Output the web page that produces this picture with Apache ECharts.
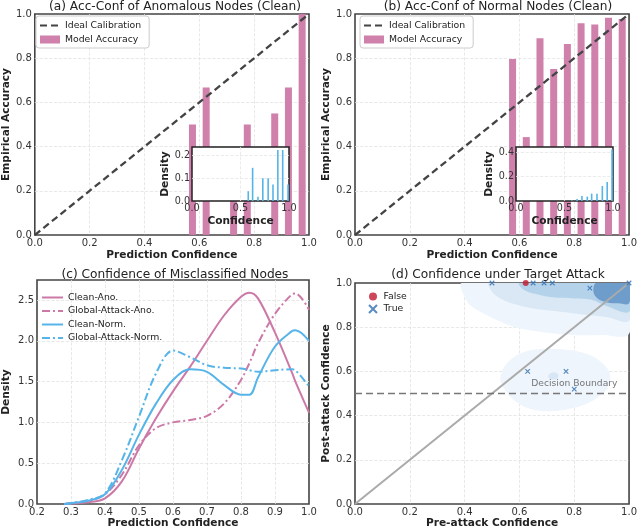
<!DOCTYPE html>
<html>
<head>
<meta charset="utf-8">
<title>Calibration and confidence</title>
<script src="https://cdn.jsdelivr.net/npm/echarts@6/dist/echarts.min.js"></script>
<style>
  * { margin: 0; padding: 0; }
  body { background: #fff; }
  #main { width: 640px; height: 530px; }
</style>
</head>
<body>
<div id="main"></div>
<script type="text/javascript">
// ---- data ----
// (a) anomalous nodes: [bin centre, accuracy]
var accAno = [[0.575, 0.5], [0.625, 0.667], [0.725, 0.33], [0.775, 0.5], [0.875, 0.55], [0.925, 0.667], [0.975, 1.0]];
// (a) inset density
var densAno = [[0.58, 0.043], [0.625, 0.145], [0.68, 0.019], [0.73, 0.099], [0.785, 0.099], [0.835, 0.072], [0.885, 0.223], [0.935, 0.223], [0.99, 0.072]];
// (b) normal nodes
var accNorm = [[0.575, 0.796], [0.625, 0.443], [0.675, 0.89], [0.725, 0.751], [0.775, 0.864], [0.825, 0.958], [0.875, 0.953], [0.925, 0.983], [0.975, 0.977]];
var densNorm = [[0.575, 0.005], [0.63, 0.016], [0.68, 0.04], [0.735, 0.036], [0.78, 0.06], [0.835, 0.06], [0.89, 0.123], [0.94, 0.156], [0.99, 0.42]];
var ideal = [[0, 0], [1, 1]];

// (c) densities of misclassified nodes
var confX = [0.28, 0.3, 0.35, 0.4, 0.45, 0.5, 0.55, 0.6, 0.65, 0.7, 0.75, 0.8, 0.825, 0.85, 0.9, 0.95, 0.96, 1.0];
var cleanAno = [0, 0.005, 0.02, 0.07, 0.28, 0.68, 1.05, 1.38, 1.68, 2.0, 2.31, 2.54, 2.59, 2.52, 2.1, 1.61, 1.5, 1.12];
var attackAno = [0, 0.01, 0.04, 0.12, 0.36, 0.72, 0.93, 1.0, 1.03, 1.08, 1.23, 1.52, 1.73, 1.97, 2.33, 2.57, 2.58, 2.38];
var cleanNorm = [0, 0.01, 0.04, 0.12, 0.42, 0.85, 1.23, 1.52, 1.65, 1.62, 1.46, 1.34, 1.34, 1.55, 1.93, 2.12, 2.13, 2.0];
var attackNorm = [0, 0.01, 0.05, 0.13, 0.54, 1.07, 1.6, 1.88, 1.8, 1.7, 1.67, 1.66, 1.64, 1.62, 1.64, 1.65, 1.64, 1.44];

// (d) target attack: [pre, post]
var flipFalse = [[0.623, 1.0]];
var flipTrue = [[0.5, 1.0], [0.65, 1.0], [0.69, 1.0], [0.72, 1.0], [0.857, 0.977], [1.0, 1.0], [0.63, 0.6], [0.77, 0.6], [0.8, 0.52]];
var boundary = [[0, 0.5], [1, 0.5]];
var boundaryLabel = [[0.643, 0.545]];
// kde contour outlines, outer level first
var contours = [
    [[0.39, 1.0], [0.395, 0.95], [0.42, 0.9], [0.48, 0.855], [0.55, 0.815], [0.6, 0.795], [0.7, 0.775], [0.8, 0.765], [0.9, 0.765], [1.0, 0.77], [1.0, 1.0]],
    [[0.53, 0.57], [0.55, 0.63], [0.6, 0.68], [0.67, 0.7], [0.75, 0.7], [0.83, 0.685], [0.89, 0.65], [0.93, 0.59], [0.92, 0.52], [0.87, 0.47], [0.8, 0.435], [0.72, 0.42], [0.64, 0.43], [0.58, 0.47], [0.545, 0.52]],
    [[0.49, 1.0], [0.5, 0.96], [0.53, 0.93], [0.58, 0.905], [0.65, 0.885], [0.75, 0.87], [0.85, 0.855], [0.92, 0.845], [1.0, 0.83], [1.0, 1.0]],
    [[0.705, 0.58], [0.715, 0.593], [0.73, 0.595], [0.742, 0.585], [0.738, 0.568], [0.722, 0.563], [0.709, 0.568]],
    [[0.6, 1.0], [0.615, 0.97], [0.66, 0.95], [0.72, 0.935], [0.8, 0.93], [0.86, 0.925], [0.92, 0.895], [1.0, 0.87], [1.0, 1.0]],
    [[0.88, 1.0], [0.87, 0.96], [0.885, 0.93], [0.92, 0.912], [0.96, 0.908], [1.0, 0.908], [1.0, 1.0]]
];
var contourColors = ['#eff5fc', '#eff5fc', '#dae8f5', '#d7e7f5', '#b4d3ea', '#6e9dcb'];

// ---- styles ----
var pink = '#cc79a7';
var blue = '#56b4e9';
var font = 'DejaVu Sans';
var dashDot = [8, 3, 2, 3];

function pairs(xs, ys) {
    var out = [];
    for (var i = 0; i < xs.length; i++) out.push([xs[i], ys[i]]);
    return out;
}

function mainGrid(left, top, width, height) {
    return {left: left, top: top, width: width, height: height, show: true,
        backgroundColor: '#fff', borderColor: '#444', borderWidth: 1.6, containLabel: false};
}

function fmt(v) { return v.toFixed(1); }

function valAxis(idx, min, max, step, name, gap, showMax) {
    return {
        type: 'value', gridIndex: idx, min: min, max: max, interval: step,
        name: name, nameLocation: 'middle', nameGap: gap,
        nameTextStyle: {fontFamily: font, fontWeight: 'bold', fontSize: 10.6, color: '#222'},
        axisLine: {show: false}, axisTick: {show: false},
        axisLabel: {fontFamily: font, fontSize: 10, color: '#333', margin: 3,
            formatter: fmt, showMaxLabel: showMax !== false},
        splitLine: {show: true, showMinLine: false, showMaxLine: false,
            lineStyle: {color: '#e2e2e2', type: 'dashed', width: 0.8}}
    };
}

function insetAxis(idx, max, step, name, gap, showMax) {
    return {
        type: 'value', gridIndex: idx, min: 0, max: max, interval: step, z: 11,
        name: name, nameLocation: 'middle', nameGap: gap,
        nameTextStyle: {fontFamily: font, fontWeight: 'bold', fontSize: 10.6, color: '#222'},
        axisLine: {show: false}, axisTick: {show: false},
        axisLabel: {fontFamily: font, fontSize: 9.6, color: '#333', margin: 2,
            formatter: fmt, showMaxLabel: showMax},
        splitLine: {show: true, showMinLine: false, showMaxLine: false,
            lineStyle: {color: '#e6e6e6', type: 'dashed', width: 0.8}}
    };
}

function titleAt(text, x, y) {
    return {text: text, left: x, top: y, textAlign: 'center',
        textStyle: {fontFamily: font, fontSize: 12.2, fontWeight: 'normal', color: '#222'}};
}

var legendText = {fontFamily: font, fontSize: 9.3, color: '#222'};
var accLegend = [
    {name: 'Ideal Calibration', itemStyle: {opacity: 0}},
    {name: 'Model Accuracy', icon: 'rect'}
];
var lineLegend = ['Clean-Ano.', 'Global-Attack-Ano.', 'Clean-Norm.', 'Global-Attack-Norm.'].map(function (n) {
    return {name: n, itemStyle: {opacity: 0}};
});

var myChart = echarts.init(document.getElementById('main'), null, {renderer: 'canvas'});

var option = {
    animation: false,
    backgroundColor: '#fff',
    textStyle: {fontFamily: font},
    title: [
        titleAt('(a) Acc-Conf of Anomalous Nodes (Clean)', 170, -4),
        titleAt('(b) Acc-Conf of Normal Nodes (Clean)', 493, -4),
        titleAt('(c) Confidence of Misclassified Nodes', 170, 264),
        titleAt('(d) Confidence under Target Attack', 493, 264)
    ],
    legend: [
        {left: 36, top: 16, orient: 'vertical', itemWidth: 20, itemHeight: 8, itemGap: 5,
            padding: [5, 8, 4, 3], borderColor: '#cccccc', borderWidth: 1, borderRadius: 3, backgroundColor: '#fff',
            textStyle: legendText, data: accLegend, selectedMode: false},
        {left: 360, top: 16, orient: 'vertical', itemWidth: 20, itemHeight: 8, itemGap: 5,
            padding: [5, 8, 4, 3], borderColor: '#cccccc', borderWidth: 1, borderRadius: 3, backgroundColor: '#fff',
            textStyle: legendText, data: accLegend, selectedMode: false},
        {left: 36, top: 288, orient: 'vertical', itemWidth: 21, itemHeight: 8, itemGap: 4.5,
            textStyle: legendText, data: lineLegend, selectedMode: false},
        {left: 363, top: 287, orient: 'vertical', itemWidth: 11, itemHeight: 8, itemGap: 3,
            textStyle: legendText, data: ['False', 'True'], selectedMode: false}
    ],
    grid: [
        mainGrid(31, 14, 278, 221),
        mainGrid(355, 14, 277, 221),
        mainGrid(32, 280, 277, 224),
        mainGrid(355, 283, 277, 221),
        {left: 192, top: 147, width: 97, height: 54, show: true, backgroundColor: '#fff',
            borderColor: '#222', borderWidth: 1.5, z: 10},
        {left: 516, top: 147, width: 97, height: 54, show: true, backgroundColor: '#fff',
            borderColor: '#222', borderWidth: 1.5, z: 10}
    ],
    xAxis: [
        valAxis(0, 0, 1, 0.2, 'Prediction Confidence', 15),
        valAxis(1, 0, 1, 0.2, 'Prediction Confidence', 15),
        valAxis(2, 0.2, 1, 0.1, 'Prediction Confidence', 14),
        valAxis(3, 0, 1, 0.2, 'Pre-attack Confidence', 14),
        insetAxis(4, 1, 0.5, 'Confidence', 15, true),
        insetAxis(5, 1, 0.5, 'Confidence', 15, true)
    ],
    yAxis: [
        valAxis(0, 0, 1, 0.2, 'Empirical Accuracy', 22),
        valAxis(1, 0, 1, 0.2, 'Empirical Accuracy', 22),
        valAxis(2, 0, 2.745, 0.5, 'Density', 25, false),
        valAxis(3, 0, 1, 0.2, 'Post-attack Confidence', 22),
        insetAxis(4, 0.236, 0.1, 'Density', 20, false),
        insetAxis(5, 0.441, 0.2, 'Density', 21, false)
    ],
    series: [
        // (a)
        {name: 'Model Accuracy', type: 'bar', xAxisIndex: 0, yAxisIndex: 0, data: accAno,
            barWidth: 7, itemStyle: {color: pink, opacity: 0.95}, z: 2},
        {name: 'Ideal Calibration', type: 'line', xAxisIndex: 0, yAxisIndex: 0, data: ideal,
            symbol: 'none', lineStyle: {color: '#444', width: 2.3, type: [7, 4]}, itemStyle: {color: '#444'}, z: 3},
        {name: 'Density A', type: 'bar', xAxisIndex: 4, yAxisIndex: 4, data: densAno,
            barWidth: 1.6, itemStyle: {color: blue}, z: 12},
        // (b)
        {name: 'Model Accuracy', type: 'bar', xAxisIndex: 1, yAxisIndex: 1, data: accNorm,
            barWidth: 7, itemStyle: {color: pink, opacity: 0.95}, z: 2},
        {name: 'Ideal Calibration', type: 'line', xAxisIndex: 1, yAxisIndex: 1, data: ideal,
            symbol: 'none', lineStyle: {color: '#444', width: 2.3, type: [7, 4]}, itemStyle: {color: '#444'}, z: 3},
        {name: 'Density B', type: 'bar', xAxisIndex: 5, yAxisIndex: 5, data: densNorm,
            barWidth: 1.6, itemStyle: {color: blue}, z: 12},
        // (c)
        {name: 'Clean-Ano.', type: 'line', xAxisIndex: 2, yAxisIndex: 2, data: pairs(confX, cleanAno),
            smooth: 0.35, symbol: 'none', lineStyle: {color: pink, width: 2}, itemStyle: {color: pink}},
        {name: 'Global-Attack-Ano.', type: 'line', xAxisIndex: 2, yAxisIndex: 2, data: pairs(confX, attackAno),
            smooth: 0.35, symbol: 'none', lineStyle: {color: pink, width: 2, type: dashDot}, itemStyle: {color: pink}},
        {name: 'Clean-Norm.', type: 'line', xAxisIndex: 2, yAxisIndex: 2, data: pairs(confX, cleanNorm),
            smooth: 0.35, symbol: 'none', lineStyle: {color: blue, width: 2}, itemStyle: {color: blue}},
        {name: 'Global-Attack-Norm.', type: 'line', xAxisIndex: 2, yAxisIndex: 2, data: pairs(confX, attackNorm),
            smooth: 0.35, symbol: 'none', lineStyle: {color: blue, width: 2, type: dashDot}, itemStyle: {color: blue}},
        // (d)
        {name: 'kde', type: 'custom', xAxisIndex: 3, yAxisIndex: 3, silent: true, clip: true, z: 1,
            data: contours.map(function (c, i) { return [0.5, 0.5, i]; }),
            renderItem: function (params, api) {
                var idx = api.value(2);
                var pts = contours[idx].map(function (p) { return api.coord(p); });
                return {type: 'polygon', shape: {points: pts, smooth: 0.35},
                    style: {fill: contourColors[idx]}};
            }},
        {name: 'diag', type: 'line', xAxisIndex: 3, yAxisIndex: 3, data: ideal, symbol: 'none',
            lineStyle: {color: '#aaaaaa', width: 2}, z: 3},
        {name: 'boundary', type: 'line', xAxisIndex: 3, yAxisIndex: 3, data: boundary, symbol: 'none',
            lineStyle: {color: '#777', width: 1.6, type: [7, 4]}, z: 3},
        {name: 'boundaryText', type: 'scatter', xAxisIndex: 3, yAxisIndex: 3, data: boundaryLabel,
            symbolSize: 0, z: 4, silent: true,
            label: {show: true, position: 'right', distance: 0, formatter: 'Decision Boundary',
                fontFamily: font, fontSize: 9.2, color: '#555'}},
        {name: 'False', type: 'scatter', xAxisIndex: 3, yAxisIndex: 3, data: flipFalse, clip: false,
            symbol: 'circle', symbolSize: 6, itemStyle: {color: '#c0182f'}, z: 5},
        {name: 'True', type: 'scatter', xAxisIndex: 3, yAxisIndex: 3, data: flipTrue, clip: false,
            symbol: 'path://M0,0L10,10M10,0L0,10', symbolSize: 4.5,
            itemStyle: {color: 'rgba(0,0,0,0)', borderColor: '#2f6db0', borderWidth: 1.2}, z: 5}
    ]
};
myChart.setOption(option);
</script>
</body>
</html>
